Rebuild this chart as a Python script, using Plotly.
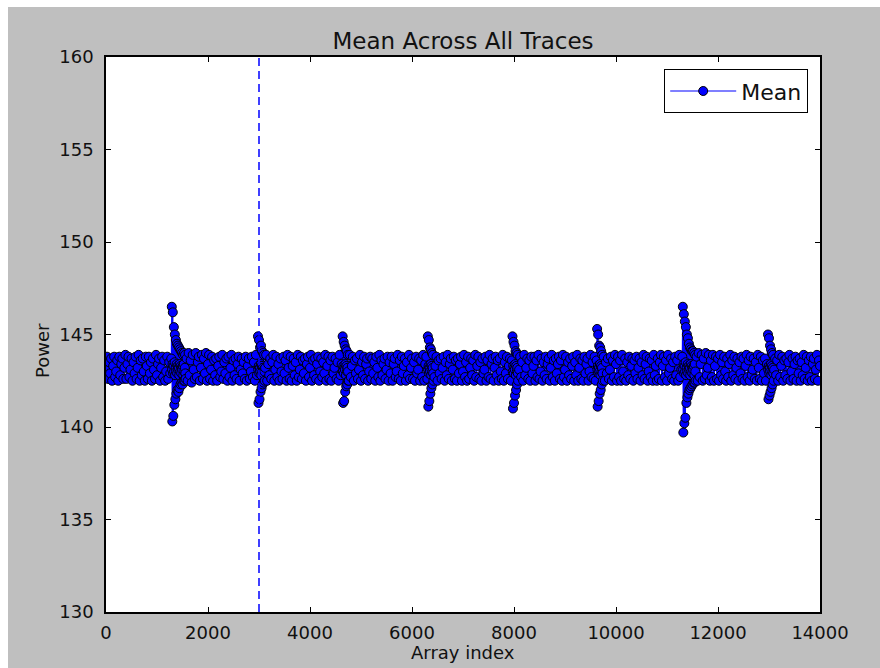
import plotly.graph_objects as go

# ---------------- data ----------------
x_ticks = [0, 2000, 4000, 6000, 8000, 10000, 12000, 14000]
y_ticks = [130, 135, 140, 145, 150, 155, 160]
vline_index = 3000

base_step = 20  # baseline samples every 20 array indices (0..14000)
base_values = [
    143.1, 143.8, 142.6, 143.5, 142.9, 143.7, 142.5, 143.3, 143.8, 142.7, 143.0, 143.6, 142.5, 143.8, 142.8, 143.4, 143.7, 142.6, 143.2, 143.9,
    142.6, 143.4, 143.8, 142.7, 143.1, 143.7, 142.5, 143.5, 142.9, 143.8, 142.6, 143.2, 143.9, 142.5, 143.6, 142.8, 143.7, 143.0, 142.5, 143.8,
    143.3, 142.6, 143.8, 142.9, 143.5, 142.5, 143.7, 143.1, 142.6, 143.9, 142.8, 143.4, 143.7, 142.5, 143.2, 143.8, 142.7, 143.6, 142.5, 143.0,
    143.8, 142.6, 143.5, 142.9, 143.7, 142.5, 143.2, 143.8, 142.7, 143.4, 144.0, 142.5, 143.6, 142.8, 143.9, 142.4, 143.3, 144.0, 142.6, 143.7,
    142.5, 144.0, 142.8, 143.6, 142.4, 143.9, 143.1, 142.6, 144.0, 142.7, 143.5, 143.8, 142.5, 143.2, 143.9, 142.6, 143.7, 142.9, 144.0, 142.5,
    143.4, 143.9, 142.6, 143.1, 143.8, 142.5, 143.6, 142.8, 143.7, 142.5, 143.3, 143.8, 142.7, 143.0, 143.9, 142.6, 143.5, 142.9, 143.7, 142.5,
    143.8, 142.7, 143.2, 143.9, 142.5, 143.6, 142.8, 143.7, 142.6, 143.4, 143.8, 142.5, 143.1, 143.7, 142.9, 143.5, 142.6, 143.8, 142.5, 143.3,
    143.7, 142.6, 143.0, 143.8, 142.7, 143.5, 142.5, 143.9, 142.8, 143.3, 143.7, 142.5, 143.6, 142.9, 143.8, 142.6, 143.2, 143.9, 142.5, 143.4,
    142.8, 143.7, 142.6, 143.5, 143.9, 142.5, 143.1, 143.8, 142.7, 143.4, 142.5, 143.7, 143.0, 142.6, 143.8, 142.9, 143.6, 142.5, 143.9, 143.2,
    142.6, 143.8, 142.5, 143.3, 143.7, 142.8, 143.5, 142.5, 143.9, 142.7, 143.1, 143.8, 142.6, 143.6, 142.9, 143.7, 142.5, 143.4, 143.8, 142.7,
    143.2, 143.9, 142.5, 143.6, 142.8, 143.7, 142.6, 143.4, 143.8, 142.5, 143.0, 143.7, 142.7, 143.5, 142.9, 143.9, 142.5, 143.3, 143.8, 142.6,
    143.6, 142.5, 143.8, 142.9, 143.2, 143.7, 142.6, 143.5, 142.5, 143.9, 142.8, 143.4, 143.7, 142.5, 143.1, 143.8, 142.7, 143.6, 142.5, 143.9,
    142.7, 143.3, 143.8, 142.5, 143.6, 142.9, 143.7, 142.6, 143.1, 143.9, 142.5, 143.5, 142.8, 143.8, 142.6, 143.4, 143.7, 142.5, 143.0, 143.8,
    142.6, 143.7, 142.9, 143.5, 142.5, 143.8, 143.2, 142.7, 143.9, 142.5, 143.6, 142.8, 143.4, 143.7, 142.6, 143.1, 143.8, 142.5, 143.5, 142.9,
    143.8, 142.5, 143.4, 143.7, 142.7, 143.0, 143.9, 142.6, 143.6, 142.5, 143.8, 142.9, 143.3, 143.7, 142.5, 143.5, 142.8, 143.9, 142.6, 143.2,
    143.7, 142.6, 143.5, 142.5, 143.8, 142.9, 143.1, 143.7, 142.5, 143.6, 142.7, 143.9, 142.5, 143.4, 143.8, 142.6, 143.0, 143.7, 142.8, 143.5,
    142.5, 143.9, 142.7, 143.3, 143.8, 142.5, 143.6, 142.9, 143.7, 142.6, 143.2, 143.8, 142.5, 143.5, 142.8, 143.9, 142.6, 143.4, 143.7, 142.5,
    143.1, 143.8, 142.6, 143.6, 142.5, 143.7, 142.9, 143.4, 143.8, 142.5, 143.0, 143.9, 142.7, 143.5, 142.5, 143.8, 142.6, 143.2, 143.7, 142.8,
    143.6, 142.5, 143.9, 142.7, 143.3, 143.8, 142.6, 143.5, 142.5, 143.7, 142.9, 143.1, 143.8, 142.5, 143.6, 142.7, 143.9, 142.6, 143.4, 143.7,
    142.5, 143.2, 143.8, 142.8, 143.6, 142.5, 143.7, 143.0, 142.6, 143.9, 142.5, 143.5, 142.9, 143.8, 142.6, 143.3, 143.7, 142.5, 143.6, 142.8,
    143.9, 142.6, 143.4, 143.7, 142.5, 143.1, 143.8, 142.7, 143.5, 142.5, 143.9, 142.8, 143.2, 143.7, 142.6, 143.6, 142.5, 143.8, 142.9, 143.3,
    143.8, 142.5, 143.6, 142.7, 143.9, 142.6, 143.0, 143.7, 142.5, 143.5, 142.8, 143.8, 142.6, 143.4, 143.7, 142.5, 143.2, 143.9, 142.7, 143.6,
    142.5, 143.7, 142.9, 143.4, 143.8, 142.6, 143.6, 142.5, 143.9, 142.7, 143.1, 143.8, 142.5, 143.5, 142.8, 143.7, 142.6, 143.3, 143.8, 142.5,
    143.5, 142.8, 143.9, 142.5, 143.2, 143.7, 142.6, 143.6, 142.5, 143.8, 142.9, 143.4, 143.7, 142.5, 143.0, 143.9, 142.7, 143.5, 142.6, 143.8,
    142.5, 143.6, 142.8, 143.7, 142.5, 143.9, 143.3, 142.6, 143.8, 142.5, 143.5, 142.9, 143.7, 142.6, 143.1, 143.8, 142.5, 143.6, 142.7, 143.9,
    143.4, 142.5, 143.8, 142.7, 143.6, 142.5, 143.9, 143.0, 142.6, 143.7, 142.5, 143.5, 142.8, 143.8, 142.6, 143.3, 143.7, 142.5, 143.6, 142.9,
    143.8, 142.6, 143.2, 143.7, 142.5, 143.5, 142.8, 143.9, 142.6, 143.4, 143.8, 142.5, 143.0, 143.7, 142.7, 143.6, 142.5, 143.9, 142.8, 143.3,
    142.5, 143.7, 142.6, 143.5, 143.9, 142.5, 143.3, 143.8, 142.7, 143.6, 142.5, 143.9, 142.9, 143.2, 143.7, 142.6, 143.5, 142.5, 143.8, 142.8,
    143.6, 142.5, 143.9, 142.7, 143.1, 143.8, 142.6, 143.5, 142.5, 143.7, 144.0, 142.5, 143.6, 142.8, 143.9, 142.4, 144.0, 142.6, 143.5, 143.8,
    142.5, 144.0, 142.7, 143.4, 143.9, 142.5, 143.7, 142.6, 144.0, 142.8, 143.2, 143.9, 142.5, 143.6, 142.7, 143.9, 142.5, 143.3, 143.8, 142.6,
    143.7, 142.5, 143.9, 142.8, 143.5, 142.6, 143.8, 143.0, 142.5, 143.7, 142.7, 143.4, 143.9, 142.5, 143.6, 142.8, 143.8, 142.6, 143.2, 143.7,
    142.5, 143.5, 142.9, 143.8, 142.6, 143.7, 142.5, 143.3, 143.9, 142.7, 143.6, 142.5, 143.8, 142.8, 143.1, 143.7, 142.6, 143.5, 142.5, 143.9,
    143.2, 142.6, 143.8, 142.5, 143.6, 142.9, 143.7, 142.5, 143.4, 143.9, 142.7, 143.5, 142.6, 143.8, 142.5, 143.1, 143.7, 142.8, 143.6, 142.5,
    143.9, 142.7, 143.3, 143.8, 142.5, 143.6, 142.8, 143.7, 142.6, 143.5, 143.9, 142.5, 143.0, 143.7, 142.6, 143.4, 143.8, 142.5, 143.6, 142.9,
    143.7, 142.5, 143.5, 142.8, 143.9, 142.6, 143.2, 143.8, 142.5, 143.6, 142.7, 143.8, 142.5, 143.4, 143.7, 142.6, 143.1, 143.9, 142.5, 143.6,
    143.3,
]

burst_step = 5  # burst samples every 5 array indices
burst_starts = [1290, 2980, 4640, 6310, 7970, 9630, 11310, 12980]
burst_1290 = [146.5, 143.1, 140.3, 143.4, 146.2, 142.9, 140.6, 143.3, 145.4, 143.0,
              141.2, 143.5, 145.0, 142.8, 141.5, 143.2, 144.7, 143.0, 141.8, 143.4,
              144.5, 142.9, 142.0, 143.3, 144.4, 143.1, 141.9, 143.2, 144.3, 142.8,
              142.1, 143.4, 144.2, 143.0, 142.3, 143.3, 144.1, 142.9, 142.4, 143.2,
              144.0, 143.1, 142.3, 143.3, 143.9, 142.8, 142.5, 143.4, 144.0, 143.0,
              142.5, 143.2, 143.9, 142.9, 142.6]
burst_2980 = [144.9, 143.1, 141.3, 143.3, 144.7, 142.9, 141.5, 143.2, 144.3, 143.0,
              141.9, 143.4, 144.4, 142.8, 142.1, 143.3, 144.1, 143.0, 142.3, 143.2,
              144.0, 142.9, 142.4, 143.1, 143.9, 143.0, 142.5]
burst_4640 = [144.9, 143.0, 141.3, 143.3, 144.6, 142.9, 141.4, 143.2, 144.4, 143.1,
              141.9, 143.4, 144.2, 142.8, 142.2, 143.3, 144.1, 143.0, 142.3, 143.2,
              143.9, 143.0, 142.5]
burst_6310 = [144.9, 143.1, 141.1, 143.3, 144.7, 142.9, 141.4, 143.2, 144.3, 143.0,
              141.8, 143.4, 144.2, 142.8, 142.1, 143.3, 144.0, 143.0, 142.3, 143.2,
              143.9, 142.9, 142.5]
burst_7970 = [144.9, 143.0, 141.0, 143.3, 144.6, 142.9, 141.3, 143.2, 144.4, 143.1,
              141.7, 143.4, 144.1, 142.8, 142.0, 143.3, 144.0, 143.0, 142.3, 143.2,
              143.9, 142.9, 142.5]
burst_9630 = [145.3, 143.1, 141.1, 143.3, 145.0, 142.9, 141.4, 143.2, 144.4, 143.0,
              141.8, 143.4, 144.3, 142.8, 142.0, 143.3, 144.1, 143.0, 142.3, 143.2,
              143.9, 142.9, 142.5]
burst_11310 = [146.5, 143.1, 139.7, 143.4, 146.1, 142.9, 140.2, 143.3, 145.7, 143.0,
               140.5, 143.5, 145.4, 142.8, 141.3, 143.2, 145.0, 143.0, 141.6, 143.4,
               144.8, 142.9, 141.8, 143.3, 144.5, 143.1, 142.0, 143.2, 144.3, 142.8,
               142.1, 143.4, 144.2, 143.0, 142.2, 143.3, 144.1, 142.9, 142.3, 143.2,
               144.1, 143.1, 142.4, 143.3, 144.0, 142.8, 142.4, 143.4, 143.9, 143.0,
               142.5]
burst_12980 = [145.0, 143.1, 141.5, 143.3, 144.8, 142.9, 141.7, 143.2, 144.4, 143.0,
               141.9, 143.4, 144.2, 142.8, 142.1, 143.3, 144.0, 143.0, 142.3, 143.2,
               143.9, 142.9, 142.5]
burst_lists = [burst_1290, burst_2980, burst_4640, burst_6310,
               burst_7970, burst_9630, burst_11310, burst_12980]

# ---------------- merge samples ----------------
windows = [(s, s + len(v) * burst_step) for s, v in zip(burst_starts, burst_lists)]
pts = {}
for i, v in enumerate(base_values):
    xi = i * base_step
    if not any(a <= xi < b for a, b in windows):
        pts[xi] = v
for s, vals in zip(burst_starts, burst_lists):
    for j, v in enumerate(vals):
        pts[s + j * burst_step] = v
xs = sorted(pts)
ys = [pts[k] for k in xs]

# ---------------- figure ----------------
W, H = 880, 668
L, R, T, B = 106, 60, 57, 56
pw, ph = W - L - R, H - T - B

def px_x(p):
    return (p - L) / pw

def px_y(p):
    return (H - B - p) / ph

font = "DejaVu Sans"
txt = "#111111"

fig = go.Figure()
fig.add_trace(go.Scatter(
    x=xs, y=ys, mode="lines+markers", name="Mean",
    line=dict(color="#0000ff", width=1.2),
    marker=dict(size=9, color="#0000ff", line=dict(color="black", width=1.0)),
))

fig.add_shape(type="line", xref="x", yref="paper", x0=vline_index, x1=vline_index,
              y0=0, y1=1, line=dict(color="#0000ff", width=1.5, dash="8px,5px"))

# white strips at top and left edges of the page
fig.add_shape(type="rect", xref="paper", yref="paper", x0=px_x(-5), x1=px_x(8),
              y0=px_y(700), y1=px_y(-5), fillcolor="white", line_width=0, layer="below")
fig.add_shape(type="rect", xref="paper", yref="paper", x0=px_x(-5), x1=px_x(890),
              y0=px_y(7), y1=px_y(-5), fillcolor="white", line_width=0, layer="below")

axis_common = dict(
    showgrid=False, zeroline=False, showline=True, linecolor="black", linewidth=1.5,
    mirror="ticks", ticks="inside", ticklen=5, tickwidth=1.2, tickcolor="black",
    tickfont=dict(family=font, size=18, color=txt),
)
fig.update_xaxes(range=[0, 14000], tickvals=x_ticks,
                 ticktext=[str(v) for v in x_ticks], ticklabelstandoff=4, **axis_common)
fig.update_yaxes(range=[130, 160], tickvals=y_ticks,
                 ticktext=[str(v) for v in y_ticks], ticklabelstandoff=7, **axis_common)

fig.add_annotation(text="Array index", xref="paper", yref="paper",
                   x=0.5, y=px_y(652), showarrow=False, xanchor="center", yanchor="middle",
                   font=dict(family=font, size=18, color=txt))
fig.add_annotation(text="Power", xref="paper", yref="paper", textangle=-90,
                   x=px_x(43), y=px_y(350), showarrow=False, xanchor="center", yanchor="middle",
                   font=dict(family=font, size=18, color=txt))

fig.update_layout(
    width=W, height=H,
    margin=dict(l=L, r=R, t=T, b=B),
    paper_bgcolor="#bfbfbf", plot_bgcolor="white",
    title=dict(text="Mean Across All Traces", x=0.5, xref="paper", xanchor="center",
               y=1 - 41 / H, yanchor="middle", yref="container",
               font=dict(family=font, size=23, color=txt)),
    legend=dict(x=px_x(808), xanchor="right", y=px_y(69), yanchor="top",
                bgcolor="white", bordercolor="black", borderwidth=1.2,
                font=dict(family=font, size=22, color=txt),
                itemwidth=66),
    showlegend=True,
)

fig.write_html("out.html")
